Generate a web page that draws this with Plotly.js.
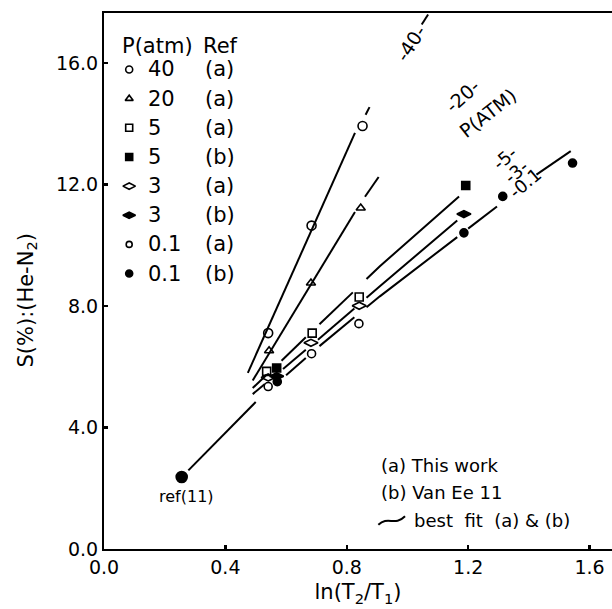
<!DOCTYPE html>
<html>
<head>
<meta charset="utf-8">
<script src="https://cdn.plot.ly/plotly-3.0.1.min.js"></script>
<style>html,body{margin:0;padding:0;background:#fff;}#chart{width:612px;height:609px;}</style>
</head>
<body>
<div id="chart"></div>
<script>
// ---------- data ----------
// legend table
const legendPressures = ['40', '20', '5', '5', '3', '3', '0.1', '0.1'];
const legendRefs = ['(a)', '(a)', '(a)', '(b)', '(a)', '(b)', '(a)', '(b)'];

// measured points  x = ln(T2/T1), y = S(%)
const p40a_x = [0.541, 0.684, 0.852];
const p40a_y = [7.11, 10.65, 13.93];
const p20a_x = [0.544, 0.682, 0.846];
const p20a_y = [6.53, 8.76, 11.23];
const p5a_x = [0.536, 0.686, 0.841];
const p5a_y = [5.85, 7.11, 8.30];
const p5b_x = [0.569, 1.192];
const p5b_y = [5.96, 11.97];
const p3a_x = [0.541, 0.682, 0.841];
const p3a_y = [5.65, 6.79, 8.01];
const p3b_x = [0.569, 1.186];
const p3b_y = [5.69, 11.03];
const p01a_x = [0.541, 0.684, 0.840];
const p01a_y = [5.35, 6.43, 7.42];
const p01b_x = [0.256, 0.571, 1.186, 1.314, 1.544];
const p01b_y = [2.37, 5.51, 10.41, 11.61, 12.71];

// best-fit curves (broken segments as drawn), null = gap
const fit40_x = [0.474, 0.827, null, 0.862, 0.875, null, 1.047, 1.068];
const fit40_y = [5.80, 13.70, null, 14.30, 14.55, null, 17.27, 17.60];
const fit20_x = [0.490, 0.827, null, 0.860, 0.905];
const fit20_y = [5.55, 11.10, null, 11.60, 12.25];
const fit5_x = [0.490, 0.535, null, 0.585, 0.665, null, 0.710, 0.820, null, 0.865, 0.909, 1.170];
const fit5_y = [5.30, 5.73, null, 6.20, 6.97, null, 7.40, 8.45, null, 8.89, 9.31, 11.61];
const fit3_x = [0.490, 0.530, null, 0.590, 0.665, null, 0.705, 0.825, null, 0.865, 0.909, 1.164];
const fit3_y = [5.10, 5.43, null, 5.93, 6.56, null, 6.89, 7.92, null, 8.27, 8.65, 10.82];
const fit01_x = [0.278, 0.500, null, 0.600, 0.665, null, 0.710, 0.825, null, 0.865, 0.909, 1.164, null, 1.200, 1.295, null, 1.425, 1.538];
const fit01_y = [2.59, 4.84, null, 5.72, 6.29, null, 6.68, 7.63, null, 7.96, 8.32, 10.27, null, 10.55, 11.28, null, 12.33, 13.10];

// axis ticks
const xTickVals = [0, 0.4, 0.8, 1.2, 1.6];
const xTickText = ['0.0', '0.4', '0.8', '1.2', '1.6'];
const yTickVals = [0, 4, 8, 12, 16];
const yTickText = ['0.0', '4.0', '8.0', '12.0', '16.0'];

// ---------- styling ----------
const FONT = 'DejaVu Sans, Liberation Sans, sans-serif';
const BLACK = '#000';
const LW = 2;
const NB = '\u00a0';

function pts(x, y, symbol, size) {
  return {
    x: x, y: y, type: 'scatter', mode: 'markers', showlegend: false, hoverinfo: 'skip',
    marker: {symbol: symbol, size: size, color: BLACK, opacity: 1, line: {color: BLACK, width: 1.6}}
  };
}
function fit(x, y) {
  return {x: x, y: y, type: 'scatter', mode: 'lines', showlegend: false, hoverinfo: 'skip',
          connectgaps: false, line: {color: BLACK, width: LW}};
}

const symbols = ['circle-open', 'triangle-up-open', 'square-open', 'square',
                 'diamond-wide-open', 'diamond-wide', 'circle-open', 'circle'];
const symSizes = [7, 7, 7, 7, 9, 9, 6, 7];

const traces = [
  fit(fit40_x, fit40_y), fit(fit20_x, fit20_y), fit(fit5_x, fit5_y),
  fit(fit3_x, fit3_y), fit(fit01_x, fit01_y),
  pts(p40a_x, p40a_y, symbols[0], 9),
  pts(p20a_x, p20a_y, symbols[1], 8),
  pts(p5a_x, p5a_y, symbols[2], 8),
  pts(p5b_x, p5b_y, symbols[3], 8),
  pts(p3a_x, p3a_y, symbols[4], 10),
  pts(p3b_x, p3b_y, symbols[5], 10),
  pts(p01a_x, p01a_y, symbols[6], 8),
  pts(p01b_x, p01b_y, symbols[7], [11, 8, 8, 8, 8])
];

// legend table placement (axis units)
const legMarkX = 0.083, legValX = 0.137, legRefX = 0.325;
const legTop = 15.79, legStep = 0.96, legHeadY = 16.57;
const legY = legendPressures.map((_, i) => legTop - i * legStep);
traces.push({
  x: legendPressures.map(() => legMarkX), y: legY, type: 'scatter', mode: 'markers',
  showlegend: false, hoverinfo: 'skip',
  marker: {symbol: symbols, size: symSizes, color: BLACK, opacity: 1, line: {color: BLACK, width: 1.6}}
});

const annotations = [];
function txt(x, y, text, size, extra) {
  annotations.push(Object.assign({
    x: x, y: y, xref: 'x', yref: 'y', text: text, showarrow: false,
    font: {family: FONT, size: size, color: BLACK}, xanchor: 'left', yanchor: 'middle'
  }, extra || {}));
}
txt(0.052, legHeadY, 'P(atm)', 21);
txt(legRefX - 0.005, legHeadY, 'Ref', 21);
legendPressures.forEach((p, i) => {
  txt(legValX, legY[i], p, 21);
  txt(legRefX, legY[i], legendRefs[i], 21);
});

// curve labels (rotated along the curves)
txt(1.012, 16.65, '-40-', 19, {xanchor: 'center', textangle: -57, width: 44, height: 24});
txt(1.180, 14.93, '-20-', 19, {xanchor: 'center', textangle: -42, width: 44, height: 24});
txt(1.265, 14.35, 'P(ATM)', 19, {xanchor: 'center', textangle: -38, width: 72, height: 24});
txt(1.321, 12.86, '-5-', 18, {xanchor: 'center', textangle: -40, width: 30, height: 22});
txt(1.357, 12.43, '-3-', 18, {xanchor: 'center', textangle: -40, width: 30, height: 22});
txt(1.387, 12.06, '-0.1', 18, {xanchor: 'center', textangle: -40, width: 40, height: 22});

// point label
txt(0.272, 1.72, 'ref(11)', 16, {xanchor: 'center'});

// key at lower right
txt(0.905, 2.74, '(a) This work', 18);
txt(0.905, 1.85, '(b) Van Ee 11', 18);
txt(1.016, 0.93, 'best' + NB + NB + 'fit' + NB + NB + '(a)' + NB + '&amp;' + NB + '(b)', 18);

// y title
annotations.push({
  xref: 'paper', yref: 'paper', x: -0.152, y: 0.465, text: 'S(%):(He-N<sub>2</sub>)',
  showarrow: false, textangle: -90, xanchor: 'center', yanchor: 'middle',
  font: {family: FONT, size: 21, color: BLACK}
});

const layout = {
  width: 612, height: 609,
  margin: {l: 104, r: 0, t: 13, b: 60, pad: 0},
  paper_bgcolor: '#fff', plot_bgcolor: '#fff',
  showlegend: false,
  font: {family: FONT, color: BLACK},
  xaxis: {
    range: [0, 1.674], tickvals: xTickVals, ticktext: xTickText,
    showline: true, linecolor: BLACK, linewidth: 2, mirror: true,
    ticks: 'inside', ticklen: 4, tickwidth: 2.5, tickcolor: BLACK,
    showgrid: false, zeroline: false, tickfont: {family: FONT, size: 19, color: BLACK},
    title: {text: 'ln(T<sub>2</sub>/T<sub>1</sub>)', font: {family: FONT, size: 21, color: BLACK}, standoff: 8}
  },
  yaxis: {
    range: [0, 17.65], tickvals: yTickVals, ticktext: yTickText,
    showline: true, linecolor: BLACK, linewidth: 2, mirror: false,
    ticks: 'inside', ticklen: 4, tickwidth: 2.5, tickcolor: BLACK,
    showgrid: false, zeroline: false, tickfont: {family: FONT, size: 19, color: BLACK}
  },
  annotations: annotations,
  shapes: [{
    type: 'path', xref: 'x', yref: 'y',
    path: 'M 0.904 0.80 C 0.936 1.10, 0.958 0.74, 0.992 1.08',
    line: {color: BLACK, width: 2}
  }]
};

Plotly.newPlot('chart', traces, layout, {displayModeBar: false, staticPlot: true});
</script>
</body>
</html>
